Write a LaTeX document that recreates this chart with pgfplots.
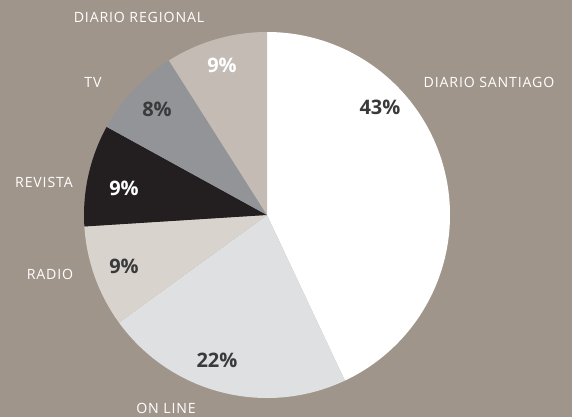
\documentclass[border=0pt]{standalone}
\usepackage{pgfplots}
\usepackage{pgfplotstable}
\usepackage{fontspec}
\pgfplotsset{compat=1.18}
\setmainfont{Open Sans}
\newfontfamily\catfont[LetterSpace=6]{Open Sans}
\definecolor{bg}{HTML}{A0958A}
\definecolor{cSant}{HTML}{FFFFFF}
\definecolor{cOnline}{HTML}{DFE0E2}
\definecolor{cRadio}{HTML}{D8D3CD}
\definecolor{cRevista}{HTML}{231F20}
\definecolor{cTV}{HTML}{929497}
\definecolor{cRegional}{HTML}{C4BCB4}
\definecolor{darktxt}{HTML}{3A3A3C}
\pgfplotstableread[col sep=comma]{
label,value,fillc,txtc,px,py,lx,ly
DIARIO SANTIAGO,43,cSant,darktxt,380,310,489,335
ON LINE,22,cOnline,darktxt,217,57,166,9
RADIO,9,cRadio,darktxt,124,151,50,143
REVISTA,9,cRevista,white,124,229,44,235
TV,8,cTV,darktxt,157,308,93,335
DIARIO REGIONAL,9,cRegional,white,222,352,139,400
}\piedata
\begin{document}
\begin{tikzpicture}
\begin{axis}[
  hide axis, scale only axis, clip=false,
  width=429pt, height=312.75pt,
  xmin=0, xmax=572, ymin=0, ymax=417,
]
\fill[bg] (axis cs:0,0) rectangle (axis cs:572,417);
\gdef\cum{90}
\pgfplotsforeachungrouped \i in {0,...,5}{
  \pgfplotstablegetelem{\i}{value}\of\piedata \let\v=\pgfplotsretval
  \pgfplotstablegetelem{\i}{fillc}\of\piedata \let\c=\pgfplotsretval
  \pgfplotstablegetelem{\i}{txtc}\of\piedata \let\tc=\pgfplotsretval
  \pgfplotstablegetelem{\i}{label}\of\piedata \let\lab=\pgfplotsretval
  \pgfplotstablegetelem{\i}{px}\of\piedata \let\px=\pgfplotsretval
  \pgfplotstablegetelem{\i}{py}\of\piedata \let\py=\pgfplotsretval
  \pgfplotstablegetelem{\i}{lx}\of\piedata \let\lx=\pgfplotsretval
  \pgfplotstablegetelem{\i}{ly}\of\piedata \let\ly=\pgfplotsretval
  \pgfmathsetmacro{\endang}{\cum - 3.6*\v}
  \edef\temp{\noexpand\fill[\c] (axis cs:267,202) -- ++(\cum:137.25pt) arc[start angle=\cum, end angle=\endang, radius=137.25pt] -- cycle;
    \noexpand\node[text=\tc, font=\noexpand\bfseries\noexpand\fontsize{15}{18}\noexpand\selectfont] at (axis cs:\px,\py) {\v\noexpand\%};
    \noexpand\node[text=white, font=\noexpand\catfont\noexpand\fontsize{10.6}{12}\noexpand\selectfont] at (axis cs:\lx,\ly) {\lab};}
  \temp
  \xdef\cum{\endang}
}
\end{axis}
\end{tikzpicture}
\end{document}
